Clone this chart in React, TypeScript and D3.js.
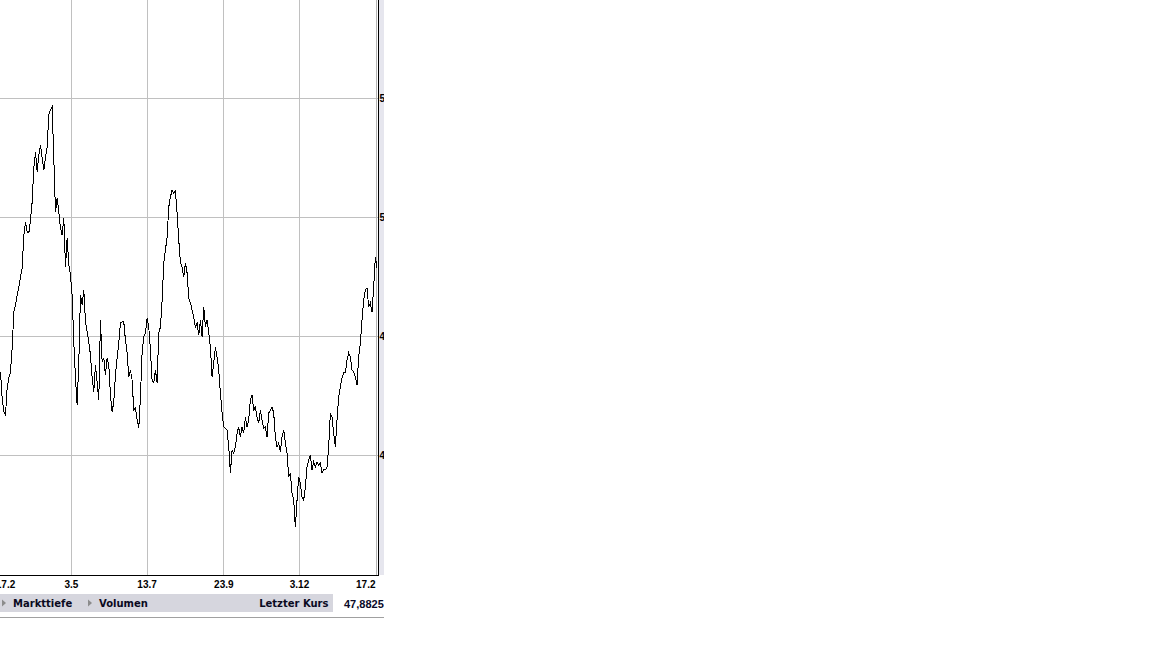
import React, {useEffect, useRef} from 'react';
import * as d3 from 'd3';

// daily closing prices, oldest first
const prices: number[] = [
  43.49, 42.39, 41.81, 41.68, 42.82, 43.24, 43.49, 44.5, 46.01, 46.3,
  46.72, 47.06, 47.48, 47.86, 49.24, 49.79, 49.37, 49.33, 49.87, 50.63,
  52.06, 52.73, 51.89, 52.61, 53.03, 52.48, 51.97, 52.48, 52.94, 54.29,
  54.5, 54.62, 52.48, 50.21, 50.8, 50.21, 49.54, 49.24, 49.96, 47.9,
  49.12, 47.98, 47.56, 46.72, 44.75, 43.24, 42.1, 43.91, 46.72, 46.3,
  46.93, 45.59, 45.17, 44.75, 44.2, 43.24, 42.65, 43.78, 43.07, 42.31,
  45.67, 43.91, 44.08, 43.36, 44.08, 43.78, 42.52, 41.81, 42.23, 43.36,
  44.08, 44.71, 45.55, 45.59, 45.59, 44.83, 44.29, 43.28, 43.57, 43.15,
  41.89, 41.97, 41.47, 41.13, 42.44, 44.29, 44.96, 45.13, 45.76, 45.38,
  44.41, 43.15, 43.03, 43.57, 43.03, 45.13, 45.38, 46.51, 48.07, 48.61,
  49.16, 50.42, 50.84, 51.13, 51.01, 51.09, 50.17, 49.03, 48.11, 47.9,
  47.48, 48.07, 47.65, 46.6, 46.39, 46.09, 45.8, 45.38, 45.55, 45.04,
  45.67, 44.96, 46.22, 45.38, 45.67, 45.13, 44.54, 43.28, 43.87, 44.54,
  44.12, 43.57, 42.61, 41.76, 41.18, 41.13, 41.05, 40.34, 39.24, 40.21,
  40.08, 40.34, 40.92, 41.18, 40.76, 41.18, 40.92, 41.6, 41.18, 41.47,
  42.31, 42.52, 41.89, 42.02, 41.6, 41.34, 41.89, 41.47, 41.13, 41.18,
  40.76, 41.76, 41.89, 42.02, 41.76, 40.76, 40.34, 40.5, 40.13, 40.76,
  41.05, 40.5, 40.08, 39.08, 39.24, 38.4, 38.11, 36.97, 38.11, 39.08,
  38.82, 38.24, 38.11, 38.66, 39.5, 39.79, 40.0, 39.37, 39.71, 39.5,
  39.71, 39.58, 39.66, 39.24, 39.37, 39.37, 39.5, 40.34, 41.76, 41.6,
  40.92, 40.34, 41.47, 42.44, 42.86, 43.24, 43.45, 43.45, 43.99, 44.29,
  44.12, 43.57, 43.49, 43.28, 42.94, 44.12, 44.71, 45.67, 46.51, 46.93,
  47.02, 46.22, 46.39, 46.01, 47.06, 48.32, 47.88,
];

const periodStart = new Date(2010, 1, 17);
const periodEnd = new Date(2011, 1, 17);
const firstLabel = '17.2';
const lastLabel = '17.2';
const dateTicks: Date[] = [
  new Date(2010, 4, 3),
  new Date(2010, 6, 13),
  new Date(2010, 8, 23),
  new Date(2010, 11, 3),
];
const priceTicks: number[] = [40, 45, 50, 55];
const lastPrice = '47,8825';
const barLinks: string[] = ['Markttiefe', 'Volumen'];

const W = 384;
const H = 648;
const plotRight = 377;
const plotBottom = 575;

export default function App() {
  const svgRef = useRef<SVGSVGElement>(null);

  useEffect(() => {
    if (!svgRef.current) return;
    const svg = d3.select(svgRef.current);
    svg.selectAll('*').remove();

    const x = d3.scaleLinear().domain([0, prices.length - 1]).range([0.5, plotRight]);
    const xt = d3.scaleTime().domain([periodStart, periodEnd]).range([-9, 380]);
    const y = d3.scaleLinear().domain([40, 55]).range([455, 98]);

    // axis label strip on the right
    svg.append('rect')
      .attr('x', 379).attr('y', 0).attr('width', W - 379).attr('height', plotBottom)
      .attr('fill', '#e6e6ee');

    // grid
    svg.append('g')
      .attr('shape-rendering', 'crispEdges')
      .selectAll('line')
      .data(priceTicks)
      .join('line')
      .attr('x1', 0).attr('x2', 378)
      .attr('y1', (d) => Math.round(y(d)) + 0.5)
      .attr('y2', (d) => Math.round(y(d)) + 0.5)
      .attr('stroke', '#c0c0c0');

    svg.append('g')
      .attr('shape-rendering', 'crispEdges')
      .selectAll('line')
      .data(dateTicks)
      .join('line')
      .attr('x1', (d) => Math.round(xt(d)) + 0.5)
      .attr('x2', (d) => Math.round(xt(d)) + 0.5)
      .attr('y1', 0).attr('y2', plotBottom)
      .attr('stroke', '#c0c0c0');

    svg.append('line')
      .attr('x1', 376.5).attr('x2', 376.5).attr('y1', 0).attr('y2', plotBottom)
      .attr('shape-rendering', 'crispEdges')
      .attr('stroke', '#b4b4b4');

    // price line
    svg.append('clipPath').attr('id', 'plotclip')
      .append('rect').attr('x', 0).attr('y', 0).attr('width', plotRight + 0.5).attr('height', plotBottom);

    const line = d3.line<number>()
      .x((_, i) => x(i))
      .y((d) => y(d));

    svg.append('path')
      .datum(prices)
      .attr('clip-path', 'url(#plotclip)')
      .attr('d', line)
      .attr('fill', 'none')
      .attr('stroke', '#000')
      .attr('stroke-width', 1)
      .attr('shape-rendering', 'crispEdges');

    // axes frame
    svg.append('line')
      .attr('x1', 378.5).attr('x2', 378.5).attr('y1', 0).attr('y2', plotBottom + 1)
      .attr('shape-rendering', 'crispEdges')
      .attr('stroke', '#000').attr('stroke-width', 1);
    svg.append('line')
      .attr('x1', 0).attr('x2', 379).attr('y1', plotBottom + 0.5).attr('y2', plotBottom + 0.5)
      .attr('shape-rendering', 'crispEdges')
      .attr('stroke', '#000');

    // price labels (cut by the frame edge)
    svg.append('g')
      .selectAll('text')
      .data(priceTicks)
      .join('text')
      .attr('x', 379.5)
      .attr('y', (d) => y(d) + 3.6)
      .style('font', 'bold 10px "Liberation Sans", Arial, sans-serif')
      .attr('fill', '#000')
      .text((d) => String(d));

    // date labels
    const dateFont = 'bold 10px "Liberation Sans", Arial, sans-serif';
    svg.append('g')
      .selectAll('text')
      .data(dateTicks)
      .join('text')
      .attr('x', (d) => xt(d) + 0.5)
      .attr('y', 588)
      .attr('text-anchor', 'middle')
      .style('font', dateFont)
      .text((d) => `${d.getDate()}.${d.getMonth() + 1}`);
    svg.append('text')
      .attr('x', xt(periodStart) + 4.8).attr('y', 588)
      .style('font', dateFont)
      .text(firstLabel);
    svg.append('text')
      .attr('x', 375.5).attr('y', 588)
      .attr('text-anchor', 'end')
      .style('font', dateFont)
      .text(lastLabel);

    // bottom bar
    svg.append('rect')
      .attr('x', 0).attr('y', 594).attr('width', 333).attr('height', 18)
      .attr('fill', '#d6d6de');

    const barFont = 'bold 10px "DejaVu Sans", Verdana, sans-serif';
    const linkX = [2, 88];
    barLinks.forEach((name, i) => {
      const lx = linkX[i];
      svg.append('path')
        .attr('d', `M${lx},${599.5}L${lx + 4},${603}L${lx},${606.5}Z`)
        .attr('fill', '#8c8c8c');
      svg.append('text')
        .attr('x', lx + 11).attr('y', 607)
        .style('font', barFont)
        .attr('fill', '#0a0a1e')
        .text(name);
    });

    svg.append('text')
      .attr('x', 328.5).attr('y', 607)
      .attr('text-anchor', 'end')
      .style('font', barFont)
      .attr('fill', '#0a0a1e')
      .text('Letzter Kurs');

    svg.append('text')
      .attr('x', 344).attr('y', 608)
      .style('font', 'bold 11px "Liberation Sans", Arial, sans-serif')
      .attr('fill', '#0a0a28')
      .text(lastPrice);

    svg.append('line')
      .attr('x1', 0).attr('x2', W).attr('y1', 617.5).attr('y2', 617.5)
      .attr('shape-rendering', 'crispEdges')
      .attr('stroke', '#a0a0a0');
  }, []);

  return (
    <div style={{position: 'absolute', left: 0, top: 0, width: 1152, height: H, background: '#fff'}}>
      <svg ref={svgRef} width={W} height={H} style={{display: 'block', overflow: 'hidden'}} />
    </div>
  );
}
